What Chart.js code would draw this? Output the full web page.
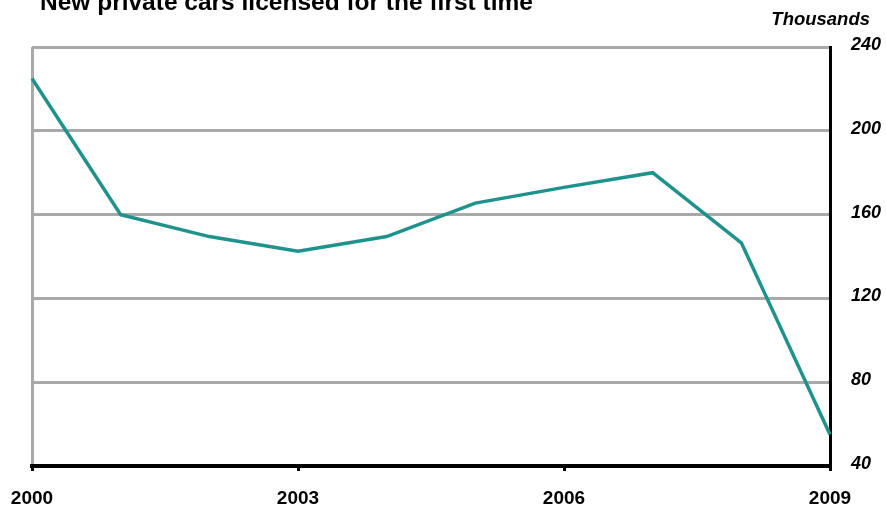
<!DOCTYPE html>
<html>
<head>
<meta charset="utf-8">
<script src="https://cdn.jsdelivr.net/npm/chart.js@4"></script>
<style>
  html, body { margin: 0; padding: 0; background: #fff; }
  #wrap { width: 886px; height: 506px; position: relative; }
</style>
</head>
<body>
<div id="wrap"><canvas id="carsChart"></canvas></div>
<script>
// Chart data
const years = ['2000', '2001', '2002', '2003', '2004', '2005', '2006', '2007', '2008', '2009'];
const newCars = [225, 160, 149.5, 142.5, 149.5, 165.5, 173, 180, 146.5, 55];
const yTicks = [40, 80, 120, 160, 200, 240];

const titleText = 'New private cars licensed for the first time';
const unitText = 'Thousands';

// Draws the cut-off title and the unit label
const headerPlugin = {
    id: 'header',
    afterDraw(chart) {
        const c = chart.ctx;
        c.save();
        c.fillStyle = '#000';
        c.textBaseline = 'alphabetic';
        c.font = 'bold 24.5px "Liberation Sans", Arial, sans-serif';
        c.textAlign = 'left';
        c.fillText(titleText, 40, 10);
        c.font = 'italic bold 18.5px "Liberation Sans", Arial, sans-serif';
        c.textAlign = 'right';
        c.fillText(unitText, 870, 25);
        c.restore();
    }
};

const ctx = document.getElementById('carsChart').getContext('2d');
new Chart(ctx, {
    type: 'line',
    data: {
        labels: years,
        datasets: [{
            data: newCars,
            borderColor: '#1e928b',
            borderWidth: 3.5,
            pointRadius: 0,
            tension: 0,
            fill: false
        }]
    },
    options: {
        responsive: true,
        maintainAspectRatio: false,
        animation: false,
        layout: { padding: { left: 32, top: 47, right: 0, bottom: 0 } },
        plugins: {
            legend: { display: false },
            tooltip: { enabled: false }
        },
        scales: {
            x: {
                offset: false,
                afterFit: scale => {
                    scale.height = 40;
                    // labels may hang past the plot edges, don't shrink the plot for them
                    scale.paddingLeft = 0;
                    scale.paddingRight = 0;
                },
                border: { color: '#000', width: 4 },
                grid: {
                    color: c => c.index === 0 ? '#a9a9a9' : 'transparent',
                    lineWidth: 3,
                    drawTicks: true,
                    tickLength: 5,
                    tickWidth: 3,
                    tickColor: c => c.index % 3 === 0 ? '#000' : 'transparent'
                },
                ticks: {
                    autoSkip: false,
                    maxRotation: 0,
                    padding: 16,
                    color: '#000',
                    font: { family: '"Liberation Sans", Arial, sans-serif', size: 19, weight: 'bold' },
                    callback: function (val, i) { return i % 3 === 0 ? years[i] : ''; }
                }
            },
            y: {
                position: 'right',
                min: yTicks[0],
                max: yTicks[yTicks.length - 1],
                afterFit: scale => {
                    scale.width = 56;
                    scale.paddingTop = 0;
                    scale.paddingBottom = 0;
                },
                afterBuildTicks: scale => { scale.ticks = yTicks.map(v => ({ value: v })); },
                border: { color: '#000', width: 3 },
                grid: {
                    color: c => c.tick && c.tick.value === 40 ? 'transparent' : '#a9a9a9',
                    lineWidth: 3,
                    drawTicks: false
                },
                ticks: {
                    padding: 21,
                    labelOffset: -2,
                    color: '#000',
                    font: { family: '"Liberation Sans", Arial, sans-serif', size: 18, style: 'italic', weight: 'bold' }
                }
            }
        }
    },
    plugins: [headerPlugin]
});
</script>
</body>
</html>
